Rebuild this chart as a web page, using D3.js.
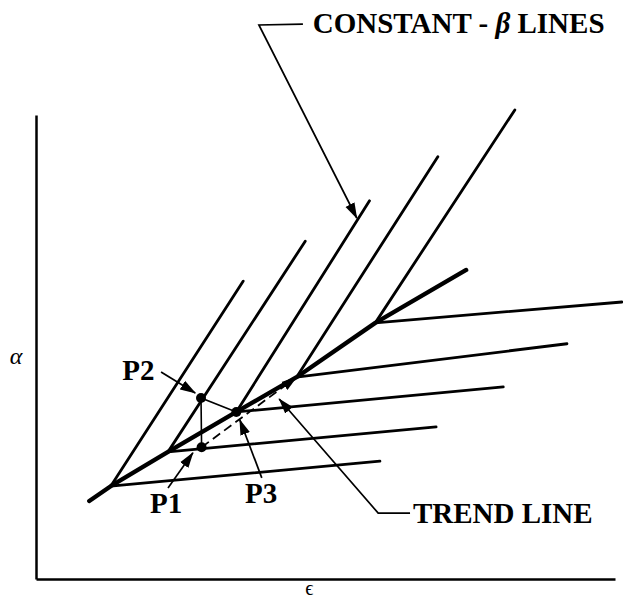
<!DOCTYPE html>
<html>
<head>
<meta charset="utf-8">
<script src="https://cdn.jsdelivr.net/npm/d3@7/dist/d3.min.js"></script>
<style>
  body { margin: 0; background: #fff; }
  text { font-family: "Liberation Serif", "DejaVu Serif", serif; fill: #000; }
  .lbl { font-weight: bold; font-size: 29px; }
</style>
</head>
<body>
<script>
// trend line vertices (epsilon, alpha), arbitrary units
var trendEps   = [9.2, 12.9, 22.8, 34.6, 45.0, 58.6, 74.3]
var trendAlpha = [16.8, 20.0, 27.4, 36.0, 43.5, 55.2, 66.6]

// constant-beta lines: start at trend vertex 1..5, end here
var betaTopEps   = [35.8, 46.5, 57.6, 69.4, 82.7]
var betaTopAlpha = [64.2, 72.8, 81.5, 91.0, 101.1]

// flat lines from the same vertices
var flatEndEps   = [59.4, 69.1, 80.7, 91.7, 101.2]
var flatEndAlpha = [25.4, 32.8, 41.4, 50.7, 59.7]

// points
var pointNames = ["P1", "P2", "P3"]
var pointEps   = [28.6, 28.5, 34.6]
var pointAlpha = [28.4, 39.0, 36.0]

// callouts: label, label anchor, leader path (last point = arrow tip)
var calloutLabels = ["P1", "P2", "P3", "TREND LINE", "CONSTANT - β LINES"]
var calloutText = [[19.7, 14.2], [14.9, 42.9], [36.1, 16.4], [65.1, 12.1], [47.8, 117.6]]
var calloutPaths = [
  [[22.8, 19.6], [27.1, 27.2]],
  [[21.6, 44.6], [27.5, 40.1]],
  [[39.0, 21.8], [35.2, 34.3]],
  [[64.6, 14.2], [59.1, 14.2], [42.0, 38.8]],
  [[46.1, 119.6], [38.5, 119.4], [55.4, 77.8]]
]

var width = 623, height = 601

var x = d3.scaleLinear().domain([0, 100]).range([36, 615])
var y = d3.scaleLinear().domain([0, 100]).range([579, 115])

var svg = d3.select("body").append("svg")
    .attr("width", width)
    .attr("height", height)

svg.append("rect").attr("width", width).attr("height", height).attr("fill", "#fff")

var defs = svg.append("defs")
defs.append("marker")
    .attr("id", "arrow")
    .attr("markerUnits", "userSpaceOnUse")
    .attr("viewBox", "0 -6 16 12")
    .attr("refX", 15)
    .attr("refY", 0)
    .attr("markerWidth", 16)
    .attr("markerHeight", 12)
    .attr("orient", "auto")
  .append("path")
    .attr("d", "M0,-5L16,0L0,5Z")
    .attr("fill", "#000")

// axes
svg.append("g")
    .attr("transform", "translate(0," + y(0) + ")")
    .call(d3.axisBottom(x).ticks(0).tickSizeOuter(0))
    .select(".domain").attr("stroke-width", 2.5)
svg.append("g")
    .attr("transform", "translate(" + x(0) + ",0)")
    .call(d3.axisLeft(y).ticks(0).tickSizeOuter(0))
    .select(".domain").attr("stroke-width", 2.5)

svg.append("text")
    .attr("x", 16).attr("y", 364)
    .style("font-style", "italic").style("font-size", "24px")
    .attr("text-anchor", "middle")
    .text("α")
svg.append("text")
    .attr("x", x(47.2)).attr("y", 595)
    .style("font-size", "20px")
    .attr("text-anchor", "middle")
    .text("ϵ")

var line = d3.line()
    .x(function(d) { return x(d[0]) })
    .y(function(d) { return y(d[1]) })

// constant-beta lines
svg.selectAll(".beta")
    .data(betaTopEps)
    .enter().append("path")
    .attr("class", "beta")
    .attr("d", function(d, i) { return line([[trendEps[i + 1], trendAlpha[i + 1]], [d, betaTopAlpha[i]]]) })
    .attr("fill", "none")
    .attr("stroke", "#000")
    .attr("stroke-width", 2.8)
    .attr("stroke-linecap", "round")

// flat lines
svg.selectAll(".flat")
    .data(flatEndEps)
    .enter().append("path")
    .attr("class", "flat")
    .attr("d", function(d, i) { return line([[trendEps[i + 1], trendAlpha[i + 1]], [d, flatEndAlpha[i]]]) })
    .attr("fill", "none")
    .attr("stroke", "#000")
    .attr("stroke-width", 2.8)
    .attr("stroke-linecap", "round")

// trend line
svg.append("path")
    .attr("d", line(trendEps.map(function(d, i) { return [d, trendAlpha[i]] })))
    .attr("fill", "none")
    .attr("stroke", "#000")
    .attr("stroke-width", 4.3)
    .attr("stroke-linecap", "round")
    .attr("stroke-linejoin", "round")

// construction lines between points
var pts = pointEps.map(function(d, i) { return [d, pointAlpha[i]] })
svg.append("path")
    .attr("d", line([pts[0], pts[1], pts[2]]))
    .attr("fill", "none")
    .attr("stroke", "#000")
    .attr("stroke-width", 1.6)
svg.append("path")
    .attr("d", line([pts[0], [trendEps[4], trendAlpha[4]]]))
    .attr("fill", "none")
    .attr("stroke", "#000")
    .attr("stroke-width", 1.8)
    .attr("stroke-dasharray", "9,5")
    .attr("marker-end", "url(#arrow)")

svg.selectAll(".pt")
    .data(pts)
    .enter().append("circle")
    .attr("class", "pt")
    .attr("cx", function(d) { return x(d[0]) })
    .attr("cy", function(d) { return y(d[1]) })
    .attr("r", 5)
    .attr("fill", "#000")

// callouts
svg.selectAll(".leader")
    .data(calloutPaths)
    .enter().append("path")
    .attr("class", "leader")
    .attr("d", line)
    .attr("fill", "none")
    .attr("stroke", "#000")
    .attr("stroke-width", 1.7)
    .attr("marker-end", "url(#arrow)")

svg.selectAll(".lbl")
    .data(calloutLabels)
    .enter().append("text")
    .attr("class", "lbl")
    .attr("x", function(d, i) { return x(calloutText[i][0]) })
    .attr("y", function(d, i) { return y(calloutText[i][1]) })
    .each(function(d) {
      var t = d3.select(this)
      var parts = d.split("β")
      if (parts.length == 1) { t.text(d); return }
      t.append("tspan").text(parts[0])
      t.append("tspan").style("font-style", "italic").text("β")
      t.append("tspan").text(parts[1])
    })
</script>
</body>
</html>
